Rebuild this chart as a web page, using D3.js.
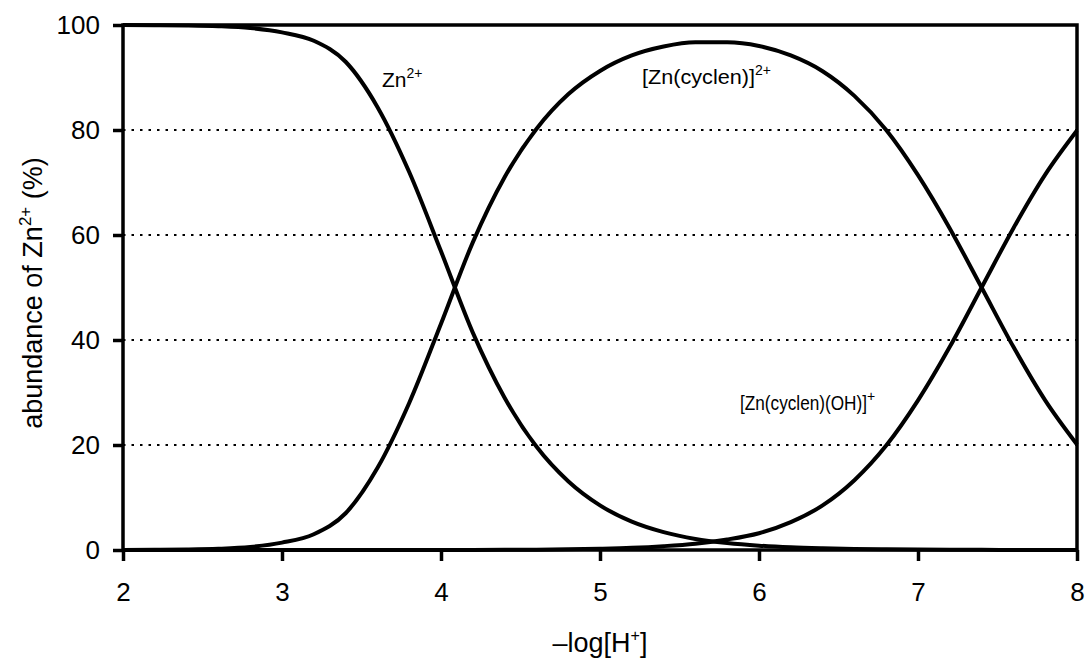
<!DOCTYPE html>
<meta charset="utf-8">
<html>
  <head>
    <style>
      body { margin: 0; background: #fff; }
      text { font-family: "Liberation Sans", Arial, Helvetica, sans-serif; fill: #000; }
      .tick text { font-size: 26px; }
      .grid line { stroke: #000; stroke-width: 2px; stroke-dasharray: 2.5,6; }
      .curve { fill: none; stroke: #000; stroke-width: 4px; }
    </style>
    <script src="https://cdn.jsdelivr.net/npm/d3@7"></script>
  </head>
  <body>
    <div id="chart"></div>
    <script>
      // -log[H+] sampled every 0.2
      var pH = [2.0, 2.2, 2.4, 2.6, 2.8, 3.0, 3.2, 3.4, 3.6, 3.8, 4.0, 4.2, 4.4, 4.6, 4.8, 5.0,
                5.2, 5.4, 5.6, 5.8, 6.0, 6.2, 6.4, 6.6, 6.8, 7.0, 7.2, 7.4, 7.6, 7.8, 8.0];
      // abundance (%)
      var zn = [99.98, 99.96, 99.91, 99.77, 99.43, 98.6, 97.0, 93.0, 84.4, 72.0, 56.9, 41.4, 29.0, 19.7, 13.1, 8.5,
                5.4, 3.4, 2.1, 1.33, 0.83, 0.51, 0.32, 0.19, 0.12, 0.075, 0.046, 0.028, 0.017, 0.01, 0.006];
      var znCyclen = [0.02, 0.04, 0.09, 0.23, 0.57, 1.4, 3.0, 7.0, 15.6, 28.0, 43.1, 58.6, 71.0, 80.2, 86.8, 91.25,
                      94.2, 95.9, 96.7, 96.7, 96.0, 94.2, 91.2, 86.5, 80.0, 71.4, 61.25, 50, 38.7, 28.5, 20.1];
      var znCyclenOH = [0, 0, 0, 0, 0, 0, 0, 0, 0, 0, 0.01, 0.02, 0.04, 0.07, 0.14, 0.25,
                        0.42, 0.73, 1.2, 2.0, 3.2, 5.3, 8.5, 13.3, 19.9, 28.5, 38.7, 50, 61.3, 71.5, 79.9];
      var xTicks = [2, 3, 4, 5, 6, 7, 8];
      var yTicks = [0, 20, 40, 60, 80, 100];

      var W = 1087, H = 661;
      var margin = { top: 25, right: 10, bottom: 111, left: 123 },
          width = 1077 - margin.left,
          height = H - margin.top - margin.bottom;

      var svg = d3.select("#chart").append("svg")
          .attr("width", W)
          .attr("height", H);
      var g = svg.append("g")
          .attr("transform", "translate(" + margin.left + "," + margin.top + ")");

      var x = d3.scaleLinear().domain([2, 8]).range([0, width]);
      var y = d3.scaleLinear().domain([0, 100]).range([height, 0]);

      // dotted gridlines
      g.append("g").attr("class", "grid")
        .selectAll("line")
        .data(yTicks.filter(function(d) { return d > 0 && d < 100; }))
        .enter().append("line")
          .attr("x1", 0).attr("x2", width)
          .attr("y1", function(d) { return y(d); })
          .attr("y2", function(d) { return y(d); });

      var yAxis = g.append("g")
          .call(d3.axisLeft(y).tickValues(yTicks).tickFormat(d3.format("d")).tickSize(10).tickPadding(13));
      yAxis.select(".domain").remove();
      yAxis.selectAll(".tick line").attr("stroke-width", 3.5);

      var xAxis = g.append("g")
          .attr("transform", "translate(0," + height + ")")
          .call(d3.axisBottom(x).tickValues(xTicks).tickFormat(d3.format("d")).tickSize(11).tickPadding(22));
      xAxis.select(".domain").remove();
      xAxis.selectAll(".tick line").attr("stroke-width", 3.5);

      // curves
      var line = d3.line()
          .x(function(d) { return x(d[0]); })
          .y(function(d) { return y(d[1]); })
          .curve(d3.curveMonotoneX);

      [zn, znCyclen, znCyclenOH].forEach(function(s) {
        g.append("path")
          .attr("class", "curve")
          .attr("d", line(pH.map(function(p, i) { return [p, s[i]]; })));
      });

      // frame
      g.append("rect")
        .attr("x", 0).attr("y", 0)
        .attr("width", width).attr("height", height)
        .attr("fill", "none").attr("stroke", "#000").attr("stroke-width", 3.5);

      // curve labels, superscript as a tspan
      function label(mx, my, main, sup, len) {
        var t = svg.append("text").attr("x", mx).attr("y", my)
          .style("font-size", "21px");
        var m = t.append("tspan").text(main);
        if (len) m.attr("textLength", len).attr("lengthAdjust", "spacingAndGlyphs");
        t.append("tspan").attr("dy", -9).style("font-size", "14px").text(sup);
      }
      label(382, 87, "Zn", "2+");
      label(642, 84, "[Zn(cyclen)]", "2+", 113);
      label(740, 410, "[Zn(cyclen)(OH)]", "+", 127);

      // axis titles
      var xt = svg.append("text")
          .attr("x", margin.left + width / 2).attr("y", 652)
          .attr("text-anchor", "middle")
          .style("font-size", "27px");
      xt.append("tspan").text("\u2013log[H");
      xt.append("tspan").attr("dy", -11).style("font-size", "16px").text("+");
      xt.append("tspan").attr("dy", 11).text("]");

      var yt = svg.append("text")
          .attr("transform", "translate(42,293) rotate(-90)")
          .attr("text-anchor", "middle")
          .style("font-size", "27px");
      yt.append("tspan").text("abundance of Zn");
      yt.append("tspan").attr("dy", -11).style("font-size", "17px").text("2+");
      yt.append("tspan").attr("dy", 11).text(" (%)");
    </script>
  </body>
</html>
